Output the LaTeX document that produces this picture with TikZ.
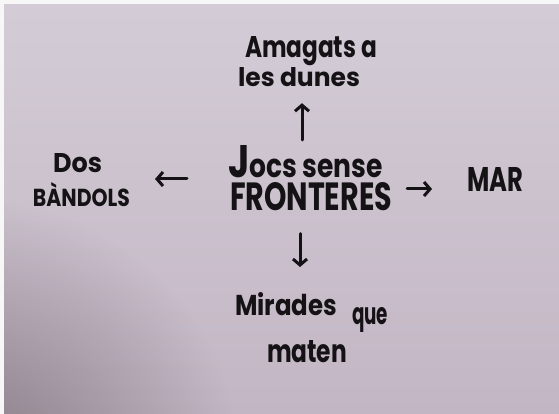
\documentclass[tikz,border=0pt]{standalone}
\usepackage{fontspec}
\setmainfont{Poppins}
\usetikzlibrary{arrows.meta,fadings}
\definecolor{paperTop}{HTML}{D3CCD6}
\definecolor{paperBot}{HTML}{C3B6C4}
\definecolor{paperDark}{HTML}{6E646C}
\definecolor{ink}{HTML}{141214}
\tikzfading[name=softcorner, inner color=transparent!0, outer color=transparent!100]
\newcommand{\hwline}[3]{\resizebox{#1pt}{#2pt}{\bfseries #3}}
\begin{document}
\begin{tikzpicture}[x=1pt,y=-1pt,
  lbl/.style={anchor=base west, inner sep=0pt, outer sep=0pt, text=ink},
  blk/.style={anchor=north west, inner sep=0pt, outer sep=0pt, text=ink, align=left},
  arr/.style={draw=ink, line width=3pt, line cap=round, line join=round,
    -{Straight Barb[length=6pt,width=14pt,line width=3pt]}}]
\useasboundingbox (0,0) rectangle (559,414);
% paper
\fill[white!94!gray] (0,0) rectangle (559,414);
\shade[top color=paperTop, bottom color=paperBot] (4,5) rectangle (559,413);
\begin{scope}
  \clip (4,5) rectangle (559,413);
  \fill[paperDark, opacity=0.7, path fading=softcorner] (-30,470) circle (270);
\end{scope}
% texts
\node[lbl] (a1) at (245,58) {\hwline{132}{21}{Amagats a}};
\node[lbl] (a2) at (238,87) {\hwline{122}{19}{les dunes}};
\node[blk] (c) at (228,145) {\hwline{155}{32}{\scalebox{1.4}{J}ocs sense}\\[4pt]
  \hspace*{2pt}\hwline{162}{28}{FRONTERES}};
\node[lbl] (l1) at (53,172) {\hwline{49}{19}{Dos}};
\node[lbl] (l2) at (33,207) {\hwline{97}{24}{BÀNDOLS}};
\node[lbl] (r) at (467,192) {\hwline{56}{24}{MAR}};
\node[lbl] (b1) at (235,315) {\hwline{102}{23}{Mirades}};
\node[lbl] (b1q) at (352,324) {\hwline{36}{17}{que}};
\node[lbl] (b2) at (267,362) {\hwline{80}{22}{maten}};
% arrow guides
\coordinate (ax) at (302,0);
\coordinate (bx) at (300,0);
\coordinate (ly) at (0,179);
\coordinate (ry) at (0,189);
% arrows
\draw[arr, shorten <=5pt, shorten >=16pt] (c.north -| ax) -- (a2.south -| ax);
\draw[arr, shorten <=23pt, shorten >=25pt] (c.south -| bx) -- (b1.north -| bx);
\draw[arr, shorten <=41pt, shorten >=25pt] (c.west |- ly) -- (l2.east |- ly);
\draw[arr, shorten <=15pt, shorten >=35pt] (c.east |- ry) -- (r.west |- ry);
\end{tikzpicture}
\end{document}
